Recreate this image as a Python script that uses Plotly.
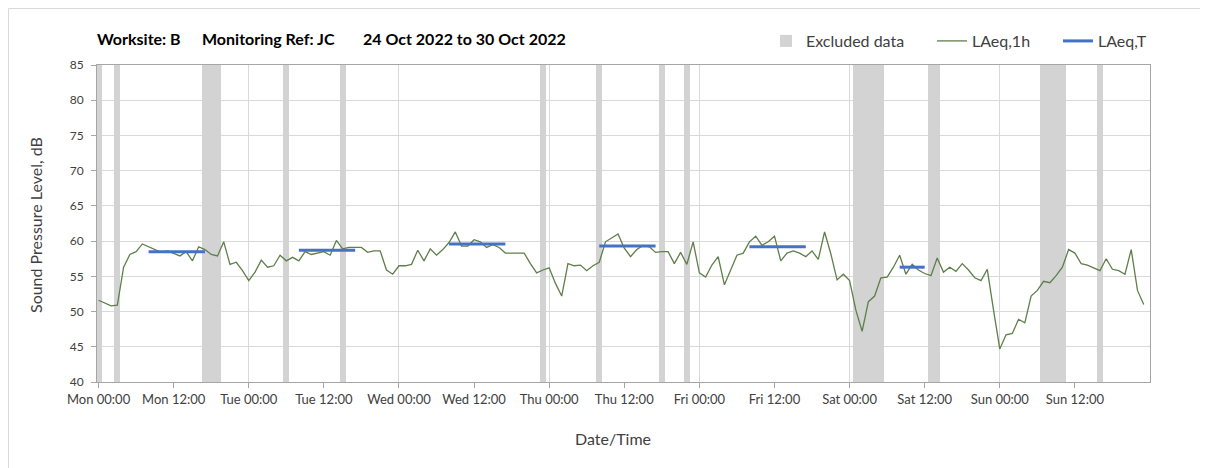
import pandas as pd
import plotly.graph_objects as go

# ---------------- data ----------------
start_time = "2022-10-24 00:00"
# hourly LAeq,1h values (dB), Mon 00:00 .. Sun 23:00
laeq_1h = [
    51.6, 51.2, 50.8, 50.9, 56.3, 58.1, 58.5, 59.6, 59.2, 58.7,
    58.4, 58.6, 58.3, 57.9, 58.5, 57.2, 59.2, 58.8, 58.1, 57.9,
    59.9, 56.7, 57.0, 55.8, 54.4, 55.6, 57.3, 56.3, 56.5, 58.0,
    57.2, 57.7, 57.2, 58.5, 58.1, 58.3, 58.5, 58.0, 60.1, 58.9,
    59.1, 59.1, 59.1, 58.4, 58.6, 58.6, 55.9, 55.3, 56.5, 56.5,
    56.7, 58.7, 57.2, 58.9, 58.0, 58.8, 59.8, 61.3, 59.3, 59.3,
    60.2, 59.9, 59.1, 59.5, 59.1, 58.3, 58.3, 58.3, 58.3, 56.8,
    55.5, 55.9, 56.2, 54.0, 52.2, 56.8, 56.5, 56.6, 55.8, 56.5,
    57.0, 59.9, 60.4, 61.0, 59.0, 57.8, 58.8, 59.4, 59.2, 58.4,
    58.5, 58.5, 56.8, 58.4, 56.7, 59.9, 55.5, 54.9, 56.6, 57.8,
    53.8, 55.9, 58.0, 58.3, 59.9, 60.7, 59.4, 59.9, 60.7, 57.2,
    58.3, 58.6, 58.3, 57.8, 58.6, 57.4, 61.3, 58.2, 54.5, 55.3,
    54.4, 50.2, 47.2, 51.4, 52.2, 54.8, 54.9, 56.3, 58.0, 55.3,
    56.7, 55.9, 55.4, 55.1, 57.6, 55.6, 56.3, 55.7, 56.8, 55.9,
    54.8, 54.4, 56.0, 50.2, 44.7, 46.7, 46.9, 48.9, 48.4, 52.2,
    53.0, 54.3, 54.1, 55.1, 56.3, 58.8, 58.3, 56.8, 56.6, 56.2,
    55.8, 57.5, 56.0, 55.8, 55.3, 58.8, 53.0, 51.0,
]
# hours (from Mon 00:00) flagged as excluded data
excluded_hours = [0, 3, 17, 18, 19, 30, 39, 71, 80, 90, 94,
                  121, 122, 123, 124, 125, 133, 134, 151, 152, 153, 154, 160]
# LAeq,T over working periods
laeqT_start = ["2022-10-24 08:00", "2022-10-25 08:00", "2022-10-26 08:00",
               "2022-10-27 08:00", "2022-10-28 08:00", "2022-10-29 08:00"]
laeqT_end = ["2022-10-24 17:00", "2022-10-25 17:00", "2022-10-26 17:00",
             "2022-10-27 17:00", "2022-10-28 17:00", "2022-10-29 12:00"]
laeqT_values = [58.5, 58.7, 59.6, 59.3, 59.2, 56.3]

y_min, y_max = 40, 85

# ---------------- build ----------------
t0 = pd.Timestamp(start_time)
times = pd.date_range(t0, periods=len(laeq_1h), freq="h")
excl_times = [t0 + pd.Timedelta(hours=h) for h in excluded_hours]
tick_times = pd.date_range(t0, periods=14, freq="12h")

tx, ty = [], []
for s, e, v in zip(laeqT_start, laeqT_end, laeqT_values):
    tx += [pd.Timestamp(s), pd.Timestamp(e), None]
    ty += [v, v, None]

FONT = "Lato"
OFF = 8                      # page body margin
W, H = 1200, 460
ML, MT = 97 - OFF, 65 - OFF
MR = W - (1150 - OFF)
MB = H - (382 - OFF)
PW, PH = W - ML - MR, H - MT - MB


def px_x(px):   # page pixel -> paper x
    return (px - OFF - ML) / PW


def px_y(py):   # page pixel -> paper y
    return (H - MB - (py - OFF)) / PH


fig = go.Figure()
fig.add_trace(go.Bar(
    x=excl_times, y=[y_max - y_min] * len(excl_times), base=y_min,
    width=3600000, marker=dict(color="#D3D3D3", line=dict(width=0)),
    name="Excluded data", hoverinfo="skip", legend="legend", showlegend=True))
fig.add_trace(go.Scatter(
    x=times, y=laeq_1h, mode="lines", name="LAeq,1h",
    line=dict(color="#5E7F49", width=1.3), legend="legend2", showlegend=True))
fig.add_trace(go.Scatter(
    x=tx, y=ty, mode="lines", name="LAeq,T",
    line=dict(color="#4472C4", width=3), legend="legend3", showlegend=True))

leg_common = dict(orientation="h", xanchor="left", yanchor="middle",
                  font=dict(size=16, color="#404040"),
                  bgcolor="rgba(0,0,0,0)", visible=True)
fig.update_layout(
    width=W, height=H,
    margin=dict(l=ML, r=MR, t=MT, b=MB, autoexpand=False),
    paper_bgcolor="white", plot_bgcolor="white",
    font=dict(family=FONT, color="#404040", size=12),
    bargap=0, showlegend=True,
    legend=dict(x=px_x(766), y=px_y(41), **leg_common),
    legend2=dict(x=px_x(932), y=px_y(41), **leg_common),
    legend3=dict(x=px_x(1058), y=px_y(41), **leg_common),
)
fig.update_xaxes(
    type="date", automargin=False,
    range=[t0 - pd.Timedelta(minutes=15), t0 + pd.Timedelta(hours=168)],
    tickmode="array", tickvals=tick_times,
    ticktext=[t.strftime("%a %H:%M") for t in tick_times],
    ticks="outside", ticklen=5, tickcolor="#A6A6A6",
    showgrid=False, showline=True, linecolor="#A6A6A6", mirror=True,
    tickfont=dict(size=13, color="#404040"),
    minor=dict(tick0=t0, dtick=24 * 3600000, showgrid=True,
               gridcolor="#D9D9D9", gridwidth=1, ticks=""),
    zeroline=False,
)
fig.update_yaxes(
    range=[y_min, y_max], dtick=5, automargin=False,
    ticks="outside", ticklen=5, tickcolor="#A6A6A6", ticklabelstandoff=5,
    showgrid=True, gridcolor="#D9D9D9", gridwidth=1,
    showline=True, linecolor="#A6A6A6", mirror=True,
    tickfont=dict(size=12, color="#404040"), zeroline=False,
)

# titles
title_parts = [("Worksite: B", 95), ("Monitoring Ref: JC", 200),
               ("24 Oct 2022 to 30 Oct 2022", 361)]
for txt, px in title_parts:
    fig.add_annotation(text="<b>%s</b>" % txt, xref="paper", yref="paper",
                       x=px_x(px), y=px_y(38),
                       xanchor="left", yanchor="middle", showarrow=False,
                       font=dict(family=FONT, size=16, color="#000000"))
fig.add_annotation(text="Sound Pressure Level, dB", xref="paper", yref="paper",
                   x=px_x(35), y=px_y(225), textangle=-90,
                   xanchor="center", yanchor="middle", showarrow=False,
                   font=dict(family=FONT, size=16, color="#404040"))
fig.add_annotation(text="Date/Time", xref="paper", yref="paper",
                   x=px_x(613), y=px_y(438),
                   xanchor="center", yanchor="middle", showarrow=False,
                   font=dict(family=FONT, size=16, color="#404040"))

# chart-area border (top and left)
fig.add_shape(type="line", xref="paper", yref="paper",
              x0=px_x(OFF + 0.5), x1=px_x(OFF + W), y0=px_y(OFF + 0.5), y1=px_y(OFF + 0.5),
              line=dict(color="#D9D9D9", width=1))
fig.add_shape(type="line", xref="paper", yref="paper",
              x0=px_x(OFF + 0.5), x1=px_x(OFF + 0.5), y0=px_y(OFF + 0.5), y1=px_y(OFF + H),
              line=dict(color="#D9D9D9", width=1))

fig.write_html("out.html")
